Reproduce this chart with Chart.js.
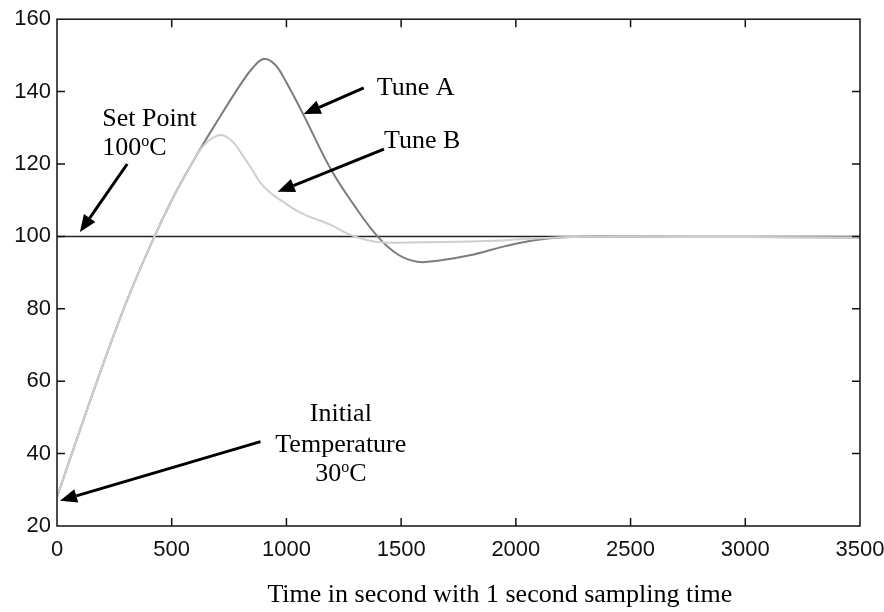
<!DOCTYPE html>
<html lang="en">
<head>
  <meta charset="UTF-8">
  <title>Tune A / Tune B temperature response</title>
  <script src="https://cdn.jsdelivr.net/npm/chart.js"></script>
  <style>
    html, body { margin: 0; padding: 0; background: #fff; }
    #wrap { width: 884px; height: 612px; }
  </style>
</head>
<body>
  <div id="wrap"><canvas id="tempChart"></canvas></div>

  <script>
    // values (time in s, temperature in deg C)
    const tuneATime = [0, 100, 200, 300, 400, 500, 600, 700, 800, 850, 900, 950, 1000, 1075, 1193, 1294, 1400, 1486, 1570, 1660, 1800, 1940, 2050, 2150, 2300, 2500, 3000, 3500];
    const tuneATemp = [28, 46.5, 64.5, 81.5, 96.5, 110, 121.5, 132, 142, 146.3, 149, 147.5, 142.5, 133.5, 118.6, 108.7, 99.8, 95, 93, 93.3, 94.8, 97.1, 98.6, 99.5, 99.9, 99.9, 99.8, 99.7];

    const tuneBTime = [0, 100, 200, 300, 400, 500, 600, 650, 712, 760, 800, 850, 887, 931, 975, 1062, 1193, 1268, 1350, 1425, 1600, 1800, 1940, 2100, 2300, 2500, 3000, 3500];
    const tuneBTemp = [28, 46.5, 64.5, 81.5, 96.5, 110, 121.5, 125.8, 128, 126.5, 123.3, 118.5, 114.8, 112, 110, 106.5, 103.2, 100.7, 99, 98.3, 98.4, 98.6, 98.9, 99.5, 99.9, 99.9, 99.8, 99.7];

    const setPointTime = [0, 3500];
    const setPointTemp = [100, 100];

    const xTicks = [0, 500, 1000, 1500, 2000, 2500, 3000, 3500];
    const yTicks = [20, 40, 60, 80, 100, 120, 140, 160];

    // text labels and arrows, placed in data units
    const notes = [
      { parts: ['Tune A'], x: 1394, y: 139.0, align: 'left' },
      { parts: ['Tune B'], x: 1425, y: 124.4, align: 'left' },
      { parts: ['Set Point'], x: 197, y: 130.5, align: 'left' },
      { parts: ['100', 'o', 'C'], x: 197, y: 122.5, align: 'left' },
      { parts: ['Initial'], x: 1237, y: 49.1, align: 'center' },
      { parts: ['Temperature'], x: 1237, y: 40.5, align: 'center' },
      { parts: ['30', 'o', 'C'], x: 1237, y: 32.5, align: 'center' }
    ];
    const arrows = [
      { from: [1337, 141.0], to: [1075, 133.8] },
      { from: [1425, 124.1], to: [962, 112.3] },
      { from: [306, 120.0], to: [100, 101.2] },
      { from: [887, 43.3], to: [13, 27.0] }
    ];

    const toPoints = (xs, ys) => xs.map((x, i) => ({ x: x, y: ys[i] }));

    const serif = '"Liberation Serif", "Times New Roman", serif';
    const sans = '"Liberation Sans", Arial, sans-serif';

    const decor = {
      id: 'decor',
      afterDatasetsDraw(chart) {
        const ctx = chart.ctx;
        const a = chart.chartArea;
        const xs = chart.scales.x, ys = chart.scales.y;
        ctx.save();

        // frame and inward ticks
        ctx.strokeStyle = '#111';
        ctx.lineWidth = 1.5;
        ctx.strokeRect(a.left, a.top, a.right - a.left, a.bottom - a.top);
        ctx.beginPath();
        xTicks.slice(1, -1).forEach(v => {
          const px = xs.getPixelForValue(v);
          ctx.moveTo(px, a.bottom); ctx.lineTo(px, a.bottom - 8);
          ctx.moveTo(px, a.top); ctx.lineTo(px, a.top + 8);
        });
        yTicks.slice(1, -1).forEach(v => {
          const py = ys.getPixelForValue(v);
          ctx.moveTo(a.left, py); ctx.lineTo(a.left + 8, py);
          ctx.moveTo(a.right, py); ctx.lineTo(a.right - 8, py);
        });
        ctx.stroke();

        // arrows
        ctx.strokeStyle = '#000';
        ctx.fillStyle = '#000';
        ctx.lineWidth = 3;
        arrows.forEach(ar => {
          const x1 = xs.getPixelForValue(ar.from[0]), y1 = ys.getPixelForValue(ar.from[1]);
          const x2 = xs.getPixelForValue(ar.to[0]), y2 = ys.getPixelForValue(ar.to[1]);
          const ang = Math.atan2(y2 - y1, x2 - x1);
          const hl = 17, hw = 7;
          const bx = x2 - hl * Math.cos(ang), by = y2 - hl * Math.sin(ang);
          ctx.beginPath();
          ctx.moveTo(x1, y1); ctx.lineTo(bx, by);
          ctx.stroke();
          ctx.beginPath();
          ctx.moveTo(x2, y2);
          ctx.lineTo(bx + hw * Math.sin(ang), by - hw * Math.cos(ang));
          ctx.lineTo(bx - hw * Math.sin(ang), by + hw * Math.cos(ang));
          ctx.closePath();
          ctx.fill();
        });

        // notes, the lone "o" is a raised degree mark
        ctx.textBaseline = 'alphabetic';
        ctx.textAlign = 'left';
        notes.forEach(n => {
          const fonts = n.parts.map(p => p === 'o' ? '16px ' + serif : '26px ' + serif);
          let w = 0;
          n.parts.forEach((p, i) => { ctx.font = fonts[i]; w += ctx.measureText(p).width; });
          let px = xs.getPixelForValue(n.x);
          if (n.align === 'center') px -= w / 2;
          const py = ys.getPixelForValue(n.y);
          n.parts.forEach((p, i) => {
            ctx.font = fonts[i];
            ctx.fillText(p, px, p === 'o' ? py - 9 : py);
            px += ctx.measureText(p).width;
          });
        });

        // axis caption
        ctx.font = '26px ' + serif;
        ctx.textAlign = 'center';
        ctx.fillText('Time in second with 1 second sampling time', xs.getPixelForValue(1930), a.bottom + 76);
        ctx.restore();
      }
    };

    new Chart(document.getElementById('tempChart'), {
      type: 'scatter',
      data: {
        datasets: [
          {
            label: 'Tune B',
            data: toPoints(tuneBTime, tuneBTemp),
            showLine: true,
            borderColor: '#cfcfcf',
            borderWidth: 2,
            pointRadius: 0,
            tension: 0.4,
            order: 0
          },
          {
            label: 'Tune A',
            data: toPoints(tuneATime, tuneATemp),
            showLine: true,
            borderColor: '#7c7c7c',
            borderWidth: 2,
            pointRadius: 0,
            tension: 0.4,
            order: 1
          },
          {
            label: 'Set Point',
            data: toPoints(setPointTime, setPointTemp),
            showLine: true,
            borderColor: '#222',
            borderWidth: 1.5,
            pointRadius: 0,
            order: 2
          }
        ]
      },
      options: {
        responsive: true,
        maintainAspectRatio: false,
        animation: false,
        layout: { padding: { top: 17, right: 24, bottom: 0, left: 0 } },
        plugins: {
          legend: { display: false },
          tooltip: { enabled: false }
        },
        scales: {
          x: {
            type: 'linear',
            min: 0,
            max: 3500,
            afterFit: s => { s.height = 86; s.paddingRight = 0; },
            afterBuildTicks: s => { s.ticks = xTicks.map(v => ({ value: v })); },
            grid: { display: false, drawTicks: false },
            border: { display: false },
            ticks: {
              padding: 11,
              color: '#111',
              maxRotation: 0,
              callback: v => String(v),
              font: { family: sans, size: 22 }
            }
          },
          y: {
            min: 20,
            max: 160,
            afterFit: s => { s.width = 57; },
            afterBuildTicks: s => { s.ticks = yTicks.map(v => ({ value: v })); },
            grid: { display: false, drawTicks: false },
            border: { display: false },
            ticks: {
              padding: 6,
              color: '#111',
              callback: v => String(v),
              font: { family: sans, size: 22 }
            }
          }
        }
      },
      plugins: [decor]
    });
  </script>
</body>
</html>
